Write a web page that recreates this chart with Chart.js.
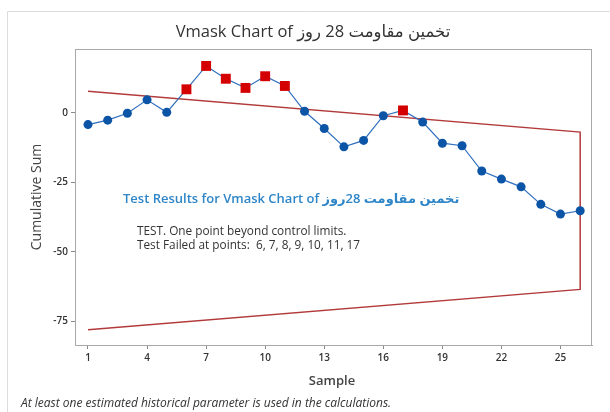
<!DOCTYPE html>
<html>
<head>
<meta charset="utf-8">
<script src="https://cdn.jsdelivr.net/npm/chart.js@4/dist/chart.umd.min.js"></script>
<style>
  html, body { margin: 0; padding: 0; background: #fff; }
  #wrap { position: relative; width: 610px; height: 412px; }
  canvas { display: block; }
</style>
</head>
<body>
<div id="wrap"><canvas id="c" width="610" height="412"></canvas></div>
<script>
// ---- Data ----
const samples = [1,2,3,4,5,6,7,8,9,10,11,12,13,14,15,16,17,18,19,20,21,22,23,24,25,26];
const cusum = [-4.2,-2.6,-0.1,4.7,0.2,8.5,16.9,12.3,9.0,13.2,9.7,0.6,-5.6,-12.2,-9.9,-1.0,0.9,-3.3,-10.9,-11.8,-20.9,-23.8,-26.6,-32.9,-36.4,-35.2];
const failedPoints = [6,7,8,9,10,11,17];
const maskX = [1, 26, 26, 1];
const maskY = [7.8, -6.9, -63.5, -78.0];
const xTicks = [1,4,7,10,13,16,19,22,25];
const yTicks = [-75,-50,-25,0];

const titleText = 'Vmask Chart of تخمین مقاومت 28 روز';
const yTitle = 'Cumulative Sum';
const xTitle = 'Sample';
const resultsTitle = 'Test Results for Vmask Chart of تخمین مقاومت 28روز';
const resultsLine1 = 'TEST. One point beyond control limits.';
const resultsLine2 = 'Test Failed at points:  6, 7, 8, 9, 10, 11, 17';
const footnote = 'At least one estimated historical parameter is used in the calculations.';

// ---- Build datasets ----
const points = samples.map((s, i) => ({x: s, y: cusum[i]}));
const isFail = samples.map(s => failedPoints.includes(s));
const maskPts = maskX.map((x, i) => ({x: x, y: maskY[i]}));

const FONT = '"Open Sans", "Segoe UI", "DejaVu Sans", sans-serif';

const decor = {
  id: 'decor',
  beforeDraw(chart) {
    const ctx = chart.ctx;
    ctx.save();
    ctx.fillStyle = '#fff';
    ctx.fillRect(0, 0, chart.width, chart.height);
    ctx.strokeStyle = '#dcdcdc';
    ctx.lineWidth = 1;
    ctx.beginPath();
    ctx.moveTo(7.5, 412);
    ctx.lineTo(7.5, 11.5);
    ctx.lineTo(610, 11.5);
    ctx.stroke();
    ctx.restore();
  },
  afterDraw(chart) {
    const ctx = chart.ctx;
    const a = chart.chartArea;
    ctx.save();
    // plot frame
    ctx.strokeStyle = '#a8a8a8';
    ctx.lineWidth = 1;
    ctx.strokeRect(Math.round(a.left) + 0.5, Math.round(a.top) + 0.5, Math.round(a.right - a.left) - 1, Math.round(a.bottom - a.top));
    ctx.direction = 'ltr';
    ctx.textBaseline = 'middle';
    // title
    ctx.fillStyle = '#333';
    ctx.font = '16.5px ' + FONT;
    ctx.textAlign = 'center';
    ctx.fillText(titleText, 313, 32);
    // axis titles
    ctx.font = '600 13px ' + FONT;
    ctx.fillStyle = '#444';
    ctx.fillText(xTitle, 332, 381);
    ctx.save();
    ctx.translate(37, 197);
    ctx.rotate(-Math.PI / 2);
    ctx.font = '14px ' + FONT;
    ctx.fillText(yTitle, 0, 0);
    ctx.restore();
    // test results
    ctx.textAlign = 'left';
    ctx.font = '600 13px ' + FONT;
    ctx.fillStyle = '#2e86c8';
    ctx.fillText(resultsTitle, 123, 199);
    ctx.font = '11.8px ' + FONT;
    ctx.fillStyle = '#333';
    ctx.fillText(resultsLine1, 137, 231.5);
    ctx.fillText(resultsLine2, 137, 245.5);
    // footnote
    ctx.font = 'italic 12px ' + FONT;
    ctx.fillStyle = '#333';
    ctx.fillText(footnote, 21, 404);
    ctx.restore();
  }
};

new Chart(document.getElementById('c'), {
  type: 'scatter',
  data: {
    datasets: [
      {
        label: 'CUSUM',
        data: points,
        showLine: true,
        order: 1,
        borderColor: '#2f6fbf',
        borderWidth: 1.2,
        pointStyle: isFail.map(f => f ? 'rect' : 'circle'),
        pointRadius: isFail.map(f => f ? 7 : 4.5),
        pointBackgroundColor: isFail.map(f => f ? '#d40000' : '#0b54a6'),
        pointBorderColor: isFail.map(f => f ? '#d40000' : '#0b54a6'),
        pointBorderWidth: 0,
        pointHoverRadius: 0
      },
      {
        label: 'V-mask',
        data: maskPts,
        showLine: true,
        order: 2,
        borderColor: '#b23a3a',
        borderWidth: 1.5,
        pointRadius: 0,
        pointHoverRadius: 0,
        fill: false
      }
    ]
  },
  options: {
    responsive: false,
    animation: false,
    devicePixelRatio: 1,
    layout: { padding: { left: 0, top: 49, right: 18, bottom: 0 } },
    plugins: {
      legend: { display: false },
      tooltip: { enabled: false },
      title: { display: false }
    },
    scales: {
      x: {
        type: 'linear',
        min: 0.34,
        max: 26.6,
        afterBuildTicks: s => { s.ticks = xTicks.map(v => ({value: v})); },
        afterFit: s => { s.height = 67; },
        grid: { display: true, drawOnChartArea: false, drawTicks: true, tickLength: 4, color: '#888' },
        border: { display: true, color: '#a8a8a8' },
        ticks: {
          color: '#333',
          font: { family: FONT, size: 10, weight: '600' },
          padding: 3,
          maxRotation: 0,
          autoSkip: false
        },
        title: { display: false }
      },
      y: {
        type: 'linear',
        min: -83.5,
        max: 23,
        afterBuildTicks: s => { s.ticks = yTicks.map(v => ({value: v})); },
        afterFit: s => { s.width = 75; },
        grid: { display: true, drawOnChartArea: false, drawTicks: true, tickLength: 4, color: '#888' },
        border: { display: true, color: '#a8a8a8' },
        ticks: {
          color: '#333',
          font: { family: FONT, size: 10, weight: '600' },
          padding: 3,
          autoSkip: false
        },
        title: { display: false }
      }
    }
  },
  plugins: [decor]
});
</script>
</body>
</html>
